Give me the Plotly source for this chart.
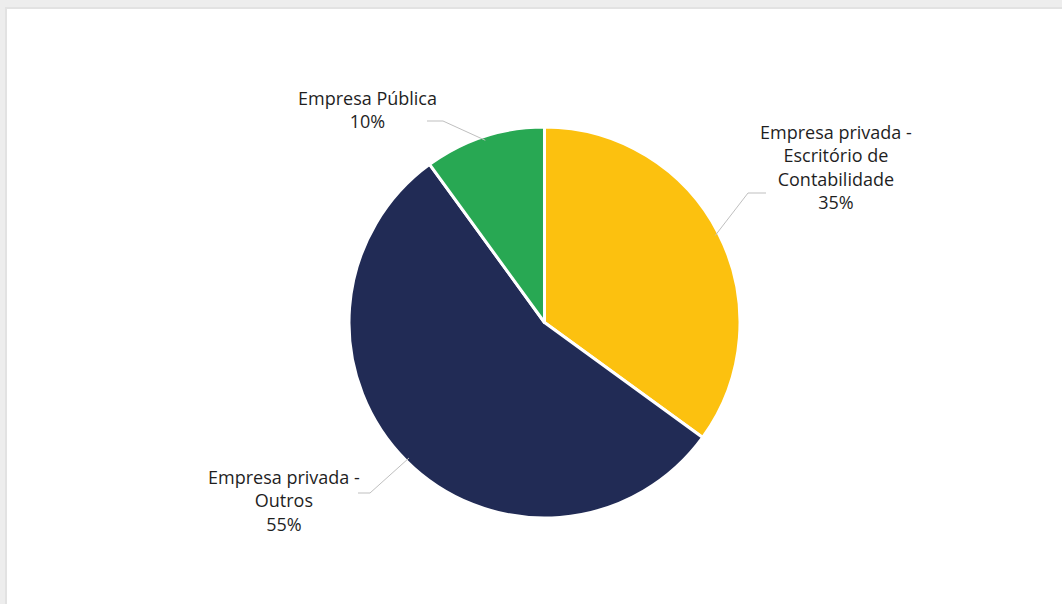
import math
import plotly.graph_objects as go

# Slice data, in clockwise order from 12 o'clock
categories = [
    "Empresa privada -<br>Escritório de<br>Contabilidade",
    "Empresa privada -<br>Outros",
    "Empresa Pública",
]
shares = [35, 55, 10]
colors = ["#FCC10F", "#212B55", "#28A853"]

W, H = 1062, 604
CX, CY, R = 544.5, 322.5, 195.5  # pie centre / radius in pixels

def px(x):
    return x / W

def py(y):
    return 1 - y / H

fig = go.Figure()
fig.add_trace(go.Pie(
    labels=categories,
    values=shares,
    marker=dict(colors=colors, line=dict(color="white", width=3)),
    sort=False,
    direction="clockwise",
    rotation=0,
    textinfo="none",
    hoverinfo="label+percent",
    domain=dict(x=[px(CX - R), px(CX + R)], y=[py(CY + R), py(CY - R)]),
    showlegend=False,
))

shapes = [
    # card shadow and white card
    dict(type="rect", xref="paper", yref="paper", x0=0, x1=1, y0=0, y1=1,
         fillcolor="#EDEDED", line_width=0, layer="below"),
    dict(type="rect", xref="paper", yref="paper", x0=px(5), x1=1, y0=0, y1=py(7),
         fillcolor="#E2E2E2", line_width=0, layer="below"),
    dict(type="rect", xref="paper", yref="paper", x0=px(7), x1=1, y0=0, y1=py(9),
         fillcolor="white", line_width=0, layer="below"),
]

# label placement: elbow point, horizontal end, text centre (pixels)
label_layout = [
    dict(elbow=(748, 193), end=(766, 193), text=(836, 167), edge=0.98),
    dict(elbow=(370, 493), end=(358, 493), text=(284, 500), edge=0.98),
    dict(elbow=(443, 121), end=(427, 121), text=(367, 110), edge=0.98),
]

annotations = []
total = sum(shares)
start = 0.0
for cat, val, lay in zip(categories, shares, label_layout):
    frac = val / total
    mid = (start + frac / 2) * 2 * math.pi
    start += frac
    ex = CX + R * lay["edge"] * math.sin(mid)
    ey = CY - R * lay["edge"] * math.cos(mid)
    bx, by = lay["elbow"]
    hx, hy = lay["end"]
    path = f"M {px(ex)},{py(ey)} L {px(bx)},{py(by)} L {px(hx)},{py(hy)}"
    shapes.append(dict(type="path", xref="paper", yref="paper", path=path,
                       line=dict(color="#BFBFBF", width=1)))
    tx, ty = lay["text"]
    annotations.append(dict(
        x=px(tx), y=py(ty), xref="paper", yref="paper",
        text=f"{cat}<br>{round(frac * 100)}%",
        showarrow=False, align="center", xanchor="center", yanchor="middle",
        font=dict(family="Open Sans", size=18, color="#1F1F1F"),
    ))

fig.update_layout(
    width=W, height=H,
    margin=dict(l=0, r=0, t=0, b=0),
    paper_bgcolor="white",
    plot_bgcolor="white",
    shapes=shapes,
    annotations=annotations,
)

fig.write_html("out.html")
